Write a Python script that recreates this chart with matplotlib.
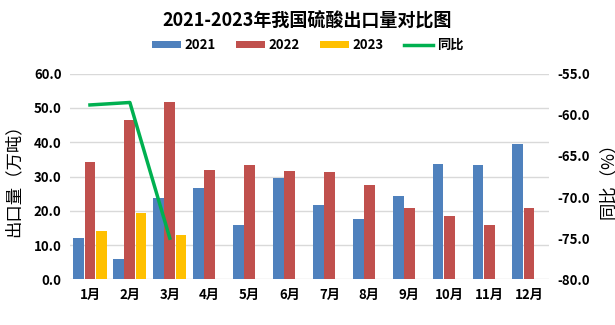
import numpy as np
import matplotlib
matplotlib.use("Agg")
import matplotlib.pyplot as plt
from matplotlib.ticker import FormatStrFormatter

plt.rcParams['font.family'] = ['Noto Sans CJK SC', 'DejaVu Sans']
plt.rcParams['font.weight'] = 'bold'

months = ["1月", "2月", "3月", "4月", "5月", "6月", "7月", "8月", "9月", "10月", "11月", "12月"]
v2021 = [12.0, 5.9, 23.7, 26.6, 15.8, 29.5, 21.6, 17.6, 24.3, 33.6, 33.3, 39.4]
v2022 = [34.2, 46.4, 51.7, 31.9, 33.3, 31.6, 31.3, 27.5, 20.8, 18.4, 15.8, 20.8]
v2023 = [14.1, 19.3, 13.0] + [np.nan] * 9
yoy = [-58.8, -58.5, -75.0]

fig = plt.figure(figsize=(6.15, 3.25), dpi=100)
ax = fig.add_axes([70/615, 1 - 279.3/325, (549-70)/615, (279.3-73.7)/325])
x = np.arange(len(months))
w = 0.27
ax.bar(x - w - 0.01, v2021, w, color="#4F81BD", label="2021", zorder=2)
ax.bar(x, v2022, w, color="#C0504D", label="2022", zorder=2)
ax.bar(x + w + 0.01, v2023, w, color="#FFC000", label="2023", zorder=2)
ax.set_xlim(-0.5, len(months) - 0.5)
ax.set_ylim(0, 60)
ax.set_yticks(np.arange(0, 61, 10))
ax.yaxis.set_major_formatter(FormatStrFormatter("%.1f"))
ax.set_xticks(x)
ax.set_xticklabels(months)
ax.grid(axis="y", color="#d9d9d9", lw=1, zorder=0)
for s in ax.spines.values():
    s.set_visible(False)
ax.tick_params(length=0, labelsize=9.5, pad=6)
ax.set_ylabel("出口量（万吨）", fontsize=12.5, labelpad=8)

ax2 = ax.twinx()
ln, = ax2.plot(x[:len(yoy)], yoy, color="#00B050", lw=2.5, label="同比", zorder=3)
ax2.set_ylim(-80, -55)
ax2.set_yticks(np.arange(-80, -54, 5))
ax2.yaxis.set_major_formatter(FormatStrFormatter("%.1f"))
for s in ax2.spines.values():
    s.set_visible(False)
ax2.tick_params(length=0, labelsize=9.5, pad=6)
ax2.set_ylabel("同比（%）", fontsize=12.5, rotation=90, labelpad=6)

fig.suptitle("2021-2023年我国硫酸出口量对比图", fontsize=13, fontweight="bold", y=0.965)
h1, l1 = ax.get_legend_handles_labels()
fig.legend(h1 + [ln], l1 + ["同比"], loc="center", bbox_to_anchor=(0.5, 1 - 45/325),
           ncol=4, frameon=False, fontsize=9.5, handlelength=2.2, handleheight=0.5,
           columnspacing=1.5, handletextpad=0.3)

fig.savefig("out.png", dpi=100)
